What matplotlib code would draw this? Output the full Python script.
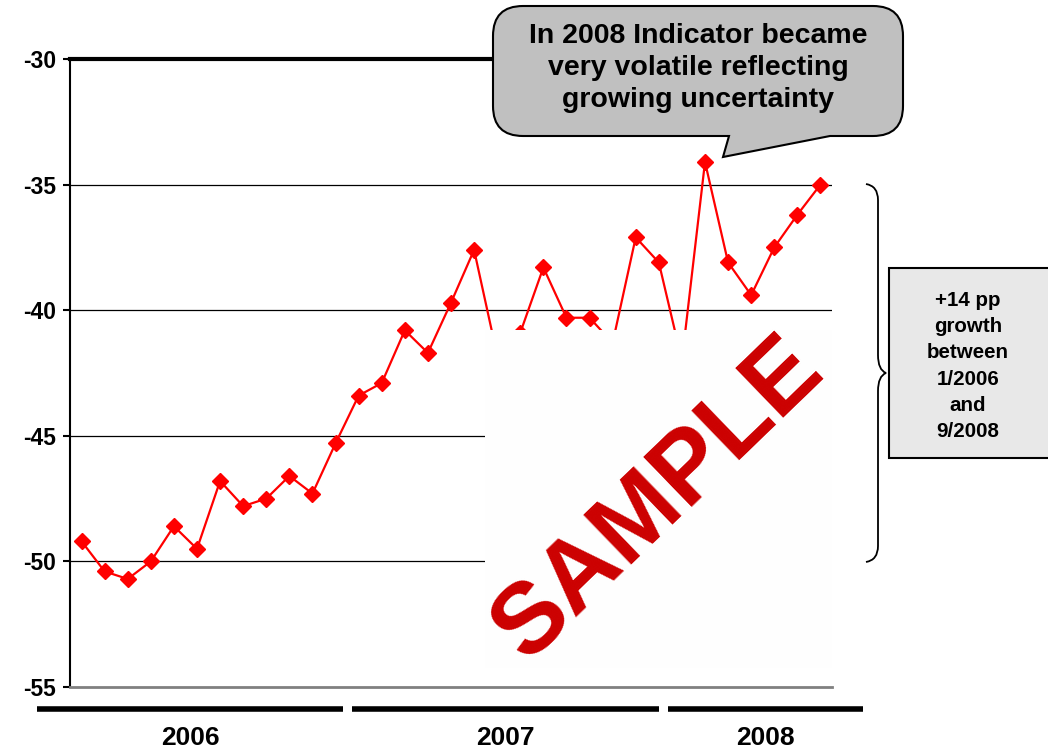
import numpy as np
import matplotlib
matplotlib.use("Agg")
import matplotlib.pyplot as plt
from matplotlib.path import Path
from matplotlib.patches import PathPatch, Rectangle

plt.rcParams['font.family'] = ['Liberation Sans', 'DejaVu Sans']

# monthly indicator, 1/2006 .. 9/2008
values = [-49.2, -50.4, -50.7, -50.0, -48.6, -49.5, -46.8, -47.8, -47.5, -46.6, -47.3, -45.3,
          -43.4, -42.9, -40.8, -41.7, -39.7, -37.6, -41.8, -40.9, -38.3, -40.3, -40.3, -41.3,
          -37.1, -38.1, -42.0, -34.1, -38.1, -39.4, -37.5, -36.2, -35.0]
yticks = [-55, -50, -45, -40, -35, -30]
years = ['2006', '2007', '2008']

W, H = 1048, 751
fig = plt.figure(figsize=(W / 100, H / 100), dpi=100)
ax = fig.add_axes([70 / W, 1 - 687 / H, 762 / W, 628 / H])

x = np.arange(len(values))
ax.plot(x, values, color='#ff0000', lw=1.6, marker='D', ms=8, mec='#ff0000', mfc='#ff0000', zorder=3)

ax.set_xlim(-0.5, len(values) - 0.5)
ax.set_ylim(-55, -30)
ax.set_yticks(yticks)
ax.set_yticklabels([str(v) for v in yticks], fontsize=16.5, fontweight='bold')
ax.set_xticks([])
for v in yticks[1:-1]:
    ax.axhline(v, color='black', lw=0.9, zorder=1)
ax.spines['right'].set_visible(False)
ax.spines['top'].set_linewidth(3)
ax.spines['left'].set_linewidth(1.5)
ax.spines['bottom'].set_color('#808080')
ax.spines['bottom'].set_linewidth(2)
ax.tick_params(axis='y', direction='out', length=5, width=1.5, pad=5)

# overlay in pixel coordinates for annotations
ov = fig.add_axes([0, 0, 1, 1])
ov.set_xlim(0, W)
ov.set_ylim(H, 0)
ov.axis('off')
ov.patch.set_visible(False)

# year bars and labels
bars = [(37, 343), (352, 659), (668, 863)]
for (a, b), yr in zip(bars, years):
    ov.plot([a, b], [709, 709], color='black', lw=4, solid_capstyle='butt')
    ov.text((a + b) / 2, 738, yr, ha='center', va='center', fontsize=19, fontweight='bold')

# SAMPLE watermark
ov.add_patch(Rectangle((485, 330), 347, 338, facecolor='#fefefe', edgecolor='none', zorder=5))
ov.text(658, 500, 'SAMPLE', rotation=44, ha='center', va='center', fontsize=72,
        fontweight='bold', color='#cc0000', zorder=6)

# callout
x0, x1, y0, y1, r = 493, 903, 6, 136, 30
verts = [(x0 + r, y0), (x1 - r, y0), (x1, y0), (x1, y0 + r), (x1, y1 - r), (x1, y1), (x1 - r, y1),
         (830, y1), (723, 157), (729, y1), (x0 + r, y1), (x0, y1), (x0, y1 - r),
         (x0, y0 + r), (x0, y0), (x0 + r, y0), (x0 + r, y0)]
codes = [Path.MOVETO, Path.LINETO, Path.CURVE3, Path.CURVE3, Path.LINETO, Path.CURVE3, Path.CURVE3,
         Path.LINETO, Path.LINETO, Path.LINETO, Path.LINETO, Path.CURVE3, Path.CURVE3,
         Path.LINETO, Path.CURVE3, Path.CURVE3, Path.CLOSEPOLY]
ov.add_patch(PathPatch(Path(verts, codes), facecolor='#c0c0c0', edgecolor='black', lw=1.5, zorder=7))
ov.text(698, 68, 'In 2008 Indicator became\nvery volatile reflecting\ngrowing uncertainty',
        ha='center', va='center', fontsize=20.5, fontweight='bold', linespacing=1.28, zorder=8)

# brace
bv = [(866, 184), (878, 186), (878, 200), (878, 355), (878, 370), (886, 373),
      (878, 376), (878, 391), (878, 546), (878, 560), (866, 562)]
bc = [Path.MOVETO, Path.CURVE3, Path.CURVE3, Path.LINETO, Path.CURVE3, Path.CURVE3,
      Path.CURVE3, Path.CURVE3, Path.LINETO, Path.CURVE3, Path.CURVE3]
ov.add_patch(PathPatch(Path(bv, bc), facecolor='none', edgecolor='black', lw=1.3))

# growth box
ov.add_patch(Rectangle((889, 268), 162, 190, facecolor='#e8e8e8', edgecolor='black', lw=1.5))
ov.text(968, 366, '+14 pp\ngrowth\nbetween\n1/2006\nand\n9/2008', ha='center', va='center',
        fontsize=14.8, fontweight='bold', linespacing=1.48)

fig.savefig('out.png', dpi=100)
